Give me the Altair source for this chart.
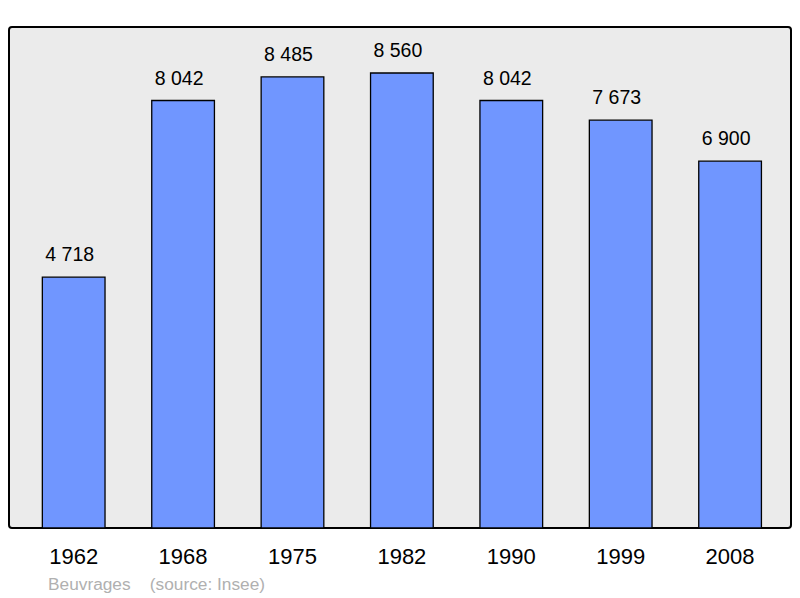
import altair as alt
import pandas as pd

years = ["1962", "1968", "1975", "1982", "1990", "1999", "2008"]
population = [4718, 8042, 8485, 8560, 8042, 7673, 6900]
labels = ["4 718", "8 042", "8 485", "8 560", "8 042", "7 673", "6 900"]

df = pd.DataFrame({"year": years, "pop": population, "label": labels})

x = alt.X("year:N", sort=years, title=None,
          scale=alt.Scale(paddingInner=0.427, paddingOuter=0.2875, align=0.53),
          axis=alt.Axis(labelAngle=0, ticks=False, domain=False, labelPadding=18,
                        labelFontSize=22, labelColor="#000", labelFont="Liberation Sans"))
y = alt.Y("pop:Q", title=None, scale=alt.Scale(domain=[0, 9425], nice=False),
          axis=None)

bars = alt.Chart(df).mark_bar(color="#7096ff", stroke="#000", strokeWidth=1.3).encode(x=x, y=y)
text = alt.Chart(df).mark_text(dy=-22, dx=-4, fontSize=19.5, font="Liberation Sans", color="#000").encode(
    x=x, y=y, text="label:N")

chart = (bars + text).properties(
    width=782, height=501,
    padding={"left": 1, "top": 19, "right": 1, "bottom": 70},
    autosize=alt.AutoSizeParams(type="none"),
    title=alt.TitleParams(
        "Beuvrages\u00a0\u00a0\u00a0\u00a0(source: Insee)",
        orient="bottom", anchor="start", dx=39, offset=9,
        fontSize=17.3, fontWeight="normal", color="#b0b0b0", font="Liberation Sans"),
).configure_view(
    fill="#ebebeb", stroke="#000", strokeWidth=2, cornerRadius=3
)

chart.save("out.html", embed_options={"renderer": "svg", "actions": False})
